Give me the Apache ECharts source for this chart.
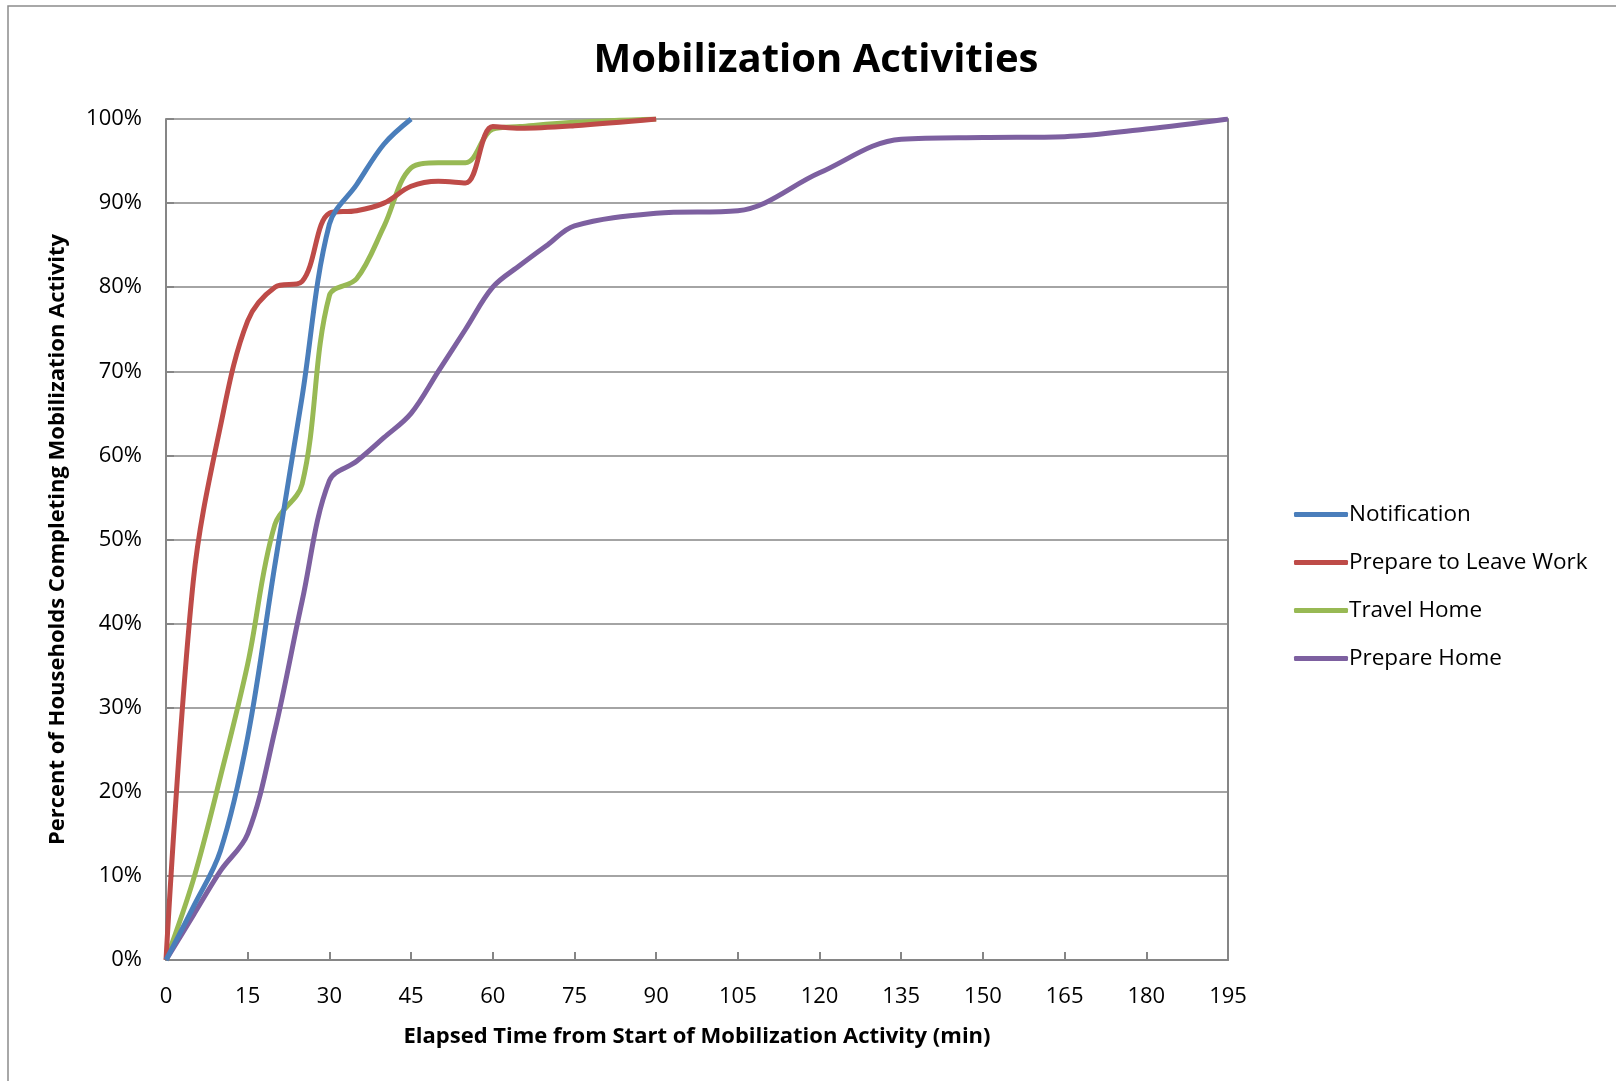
<!DOCTYPE html>
<html>
<head>
<meta charset="utf-8">
<script src="https://cdn.jsdelivr.net/npm/echarts@6/dist/echarts.min.js"></script>
<style>
  html, body { margin: 0; padding: 0; background: #fff; }
  #chart { width: 1616px; height: 1081px; }
</style>
</head>
<body>
<div id="chart"></div>
<script>
var seriesNames = ['Notification', 'Prepare to Leave Work', 'Travel Home', 'Prepare Home'];

// minutes / percent pairs
var notifTime = [0, 5, 10, 15, 20, 25, 30, 35, 40, 45];
var notifPct = [0, 6.3, 13, 26.5, 47, 67, 87.5, 92.2, 97, 100];

var workTime = [0, 5, 10, 15, 20, 25, 30, 35, 40, 45, 50, 55, 60, 65, 75, 90];
var workPct = [0, 45, 63.5, 76, 80, 80.7, 88.8, 89.1, 90, 92, 92.6, 92.4, 99.1, 98.9, 99.2, 100];

var travelTime = [0, 5, 10, 15, 20, 25, 30, 35, 40, 45, 50, 55, 60, 65, 75, 90];
var travelPct = [0, 9.5, 21.8, 35.2, 51.8, 56.6, 79, 81, 87.2, 94.2, 94.8, 94.8, 98.8, 99.1, 99.6, 100];

var homeTime = [0, 5, 10, 15, 20, 25, 30, 35, 40, 45, 50, 55, 60, 65, 70, 75, 90, 105, 120, 135, 150, 165, 180, 195];
var homePct = [0, 5.3, 10.6, 15, 27.3, 42.7, 57, 59.3, 62.1, 65, 70, 75, 80, 82.6, 85, 87.3, 88.8, 89.1, 93.6, 97.6, 97.8, 97.9, 98.8, 100];

var colors = ['#4A7EBB', '#BE4B48', '#98B954', '#7D60A0'];

function pairs(t, v) {
    return t.map(function(x, i) { return [x, v[i]]; });
}

var allData = [
    pairs(notifTime, notifPct),
    pairs(workTime, workPct),
    pairs(travelTime, travelPct),
    pairs(homeTime, homePct)
];

var gridColor = '#868686';
var font = '"Open Sans", "Liberation Sans", sans-serif';

var option = {
    color: colors,
    animation: false,
    textStyle: { fontFamily: font },
    title: {
        text: 'Mobilization Activities',
        left: 811,
        top: 36,
        textAlign: 'center',
        textStyle: { fontSize: 40, fontWeight: 'bold', color: '#000', fontFamily: font }
    },
    graphic: [{
        type: 'rect',
        shape: { x: 8, y: 6, width: 1700, height: 1200 },
        style: { fill: 'none', stroke: '#8c8c8c', lineWidth: 1.5 },
        silent: true
    }],
    legend: {
        orient: 'vertical',
        left: 1289,
        top: 498,
        itemWidth: 54,
        itemHeight: 5,
        itemGap: 25,
        icon: 'roundRect',
        data: seriesNames,
        textStyle: { fontSize: 22.5, color: '#000', padding: [0, 0, 0, -4] }
    },
    grid: { left: 166, top: 119, width: 1062, height: 841 },
    xAxis: {
        type: 'value',
        min: 0,
        max: 195,
        interval: 15,
        name: 'Elapsed Time from Start of Mobilization Activity (min)',
        nameLocation: 'middle',
        nameGap: 66,
        nameTextStyle: { fontSize: 22, fontWeight: 'bold', color: '#000' },
        axisLine: { lineStyle: { color: gridColor, width: 2 } },
        axisTick: { inside: true, length: 8, lineStyle: { color: gridColor, width: 2 } },
        axisLabel: { fontSize: 22, color: '#000', margin: 26 },
        splitLine: { show: false }
    },
    yAxis: [{
        type: 'value',
        min: 0,
        max: 100,
        interval: 10,
        name: 'Percent of Households Completing Mobilization Activity',
        nameLocation: 'middle',
        nameGap: 97,
        nameTextStyle: { fontSize: 22, fontWeight: 'bold', color: '#000' },
        axisLine: { show: true, lineStyle: { color: gridColor, width: 2 } },
        axisTick: { show: true, inside: true, length: 8, lineStyle: { color: gridColor, width: 2 } },
        axisLabel: { fontSize: 22, color: '#000', margin: 24, formatter: '{value}%' },
        splitLine: { lineStyle: { color: gridColor, width: 1.5 } }
    }, {
        type: 'value',
        position: 'right',
        min: 0,
        max: 100,
        axisLine: { show: true, lineStyle: { color: gridColor, width: 2 } },
        axisTick: { show: false },
        axisLabel: { show: false },
        splitLine: { show: false }
    }],
    series: seriesNames.map(function(name, i) {
        return {
            name: name,
            type: 'line',
            data: allData[i],
            smooth: 0.35,
            symbol: 'none',
            lineStyle: { width: 5, color: colors[i] },
            z: 10 - i
        };
    })
};

var myChart = echarts.init(document.getElementById('chart'));
myChart.setOption(option);
</script>
</body>
</html>
